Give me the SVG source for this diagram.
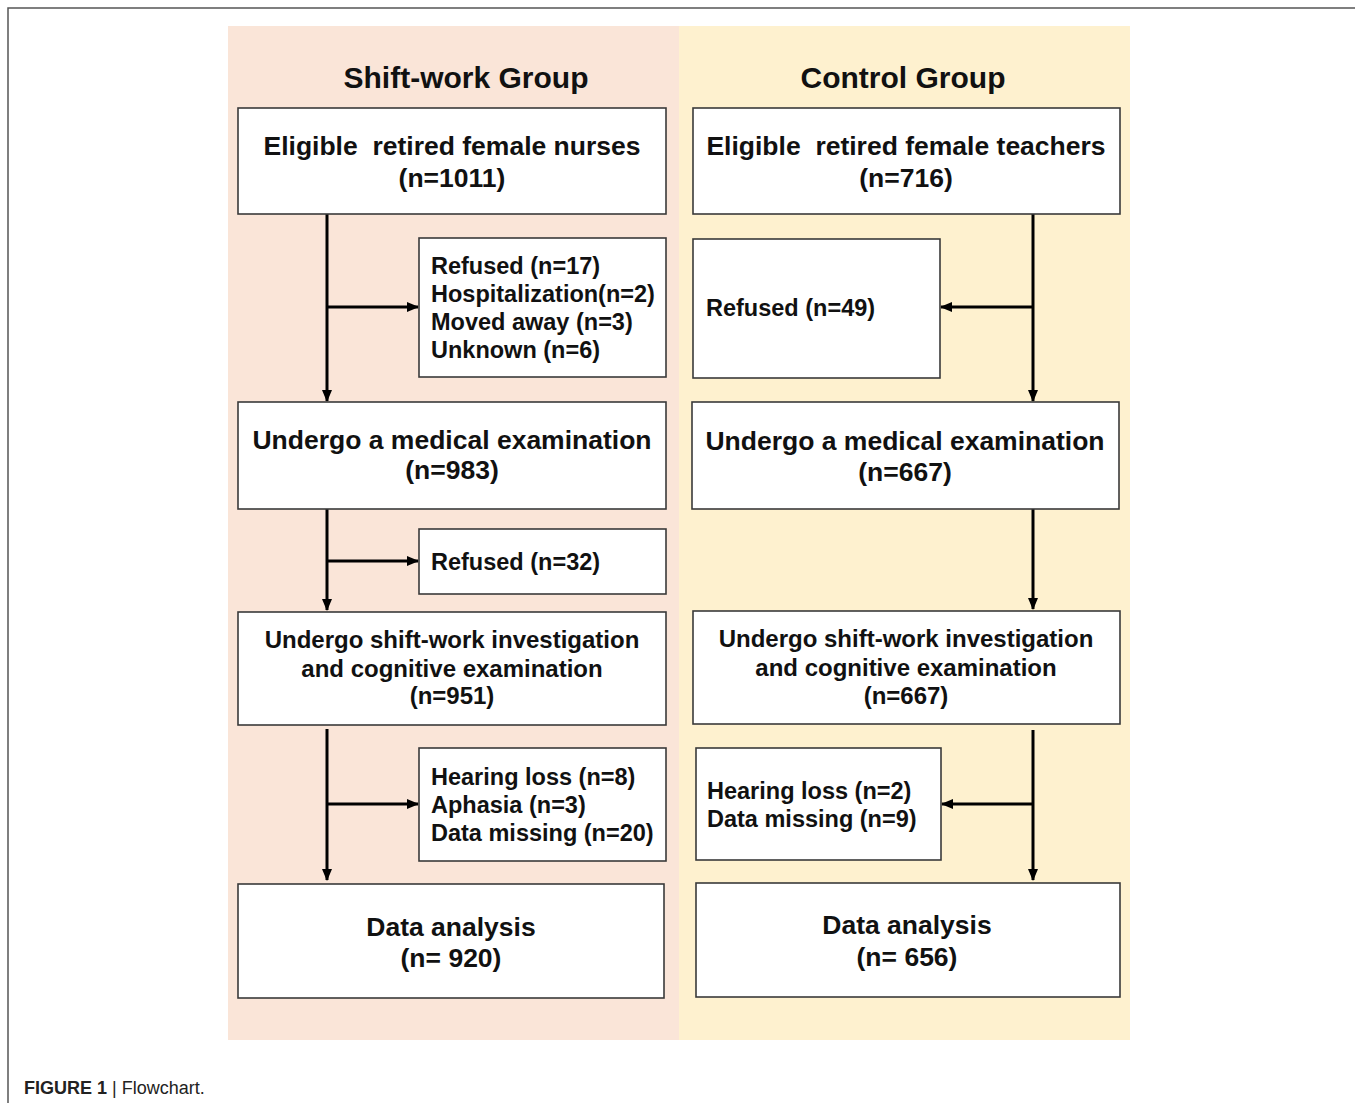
<svg xmlns="http://www.w3.org/2000/svg" width="1355" height="1103" viewBox="0 0 1355 1103">
<defs>
<style>
.box{fill:#fff;stroke:#3a3a3a;stroke-width:1.6}
.t{font-family:"Liberation Sans",Arial,sans-serif;font-weight:bold;fill:#111}
.big{font-size:26.5px;text-anchor:middle}
.mid{font-size:24px;text-anchor:middle}
.sm{font-size:23.5px}
.title{font-size:30px;text-anchor:middle}
.ln{stroke:#000;stroke-width:3;fill:none}
</style>
<marker id="ah" markerUnits="userSpaceOnUse" markerWidth="12" markerHeight="12" viewBox="0 0 12 12" refX="11" refY="6" orient="auto">
<path d="M0,1 L12,6 L0,11 Z" fill="#000"/>
</marker>
</defs>
<rect x="0" y="0" width="1355" height="1103" fill="#fff"/>
<path d="M8,1103 V8 H1355" fill="none" stroke="#555" stroke-width="1.5"/>
<rect x="228" y="26" width="451" height="1014" fill="#fae5d8"/>
<rect x="679" y="26" width="451" height="1014" fill="#fef1cf"/>
<text class="t title" x="466" y="88">Shift-work Group</text>
<text class="t title" x="903" y="88">Control Group</text>

<g id="connectors">
<path class="ln" d="M327,214 V401" marker-end="url(#ah)"/>
<path class="ln" d="M327,307 H418" marker-end="url(#ah)"/>
<path class="ln" d="M327,509 V610" marker-end="url(#ah)"/>
<path class="ln" d="M327,561 H418" marker-end="url(#ah)"/>
<path class="ln" d="M327,729 V880" marker-end="url(#ah)"/>
<path class="ln" d="M327,804 H418" marker-end="url(#ah)"/>
<path class="ln" d="M1033,214 V401" marker-end="url(#ah)"/>
<path class="ln" d="M1033,307 H941" marker-end="url(#ah)"/>
<path class="ln" d="M1033,509 V609" marker-end="url(#ah)"/>
<path class="ln" d="M1033,730 V880" marker-end="url(#ah)"/>
<path class="ln" d="M1033,804 H942" marker-end="url(#ah)"/>
</g>

<g id="n-nurses">
<rect class="box" x="238" y="108" width="428" height="106"/>
<text class="t big" x="452" y="155" xml:space="preserve">Eligible  retired female nurses</text>
<text class="t big" x="452" y="187">(n=1011)</text>
</g>
<g id="n-excl1">
<rect class="box" x="419" y="238" width="247" height="139"/>
<text class="t sm" x="431" y="274">Refused (n=17)</text>
<text class="t sm" x="431" y="302">Hospitalization(n=2)</text>
<text class="t sm" x="431" y="330">Moved away (n=3)</text>
<text class="t sm" x="431" y="358">Unknown (n=6)</text>
</g>
<g id="n-med1">
<rect class="box" x="238" y="402" width="428" height="107"/>
<text class="t big" x="452" y="449">Undergo a medical examination</text>
<text class="t big" x="452" y="479">(n=983)</text>
</g>
<g id="n-excl2">
<rect class="box" x="419" y="529" width="247" height="65"/>
<text class="t sm" x="431" y="570">Refused (n=32)</text>
</g>
<g id="n-shift1">
<rect class="box" x="238" y="612" width="428" height="113"/>
<text class="t mid" x="452" y="648">Undergo shift-work investigation</text>
<text class="t mid" x="452" y="677">and cognitive examination</text>
<text class="t mid" x="452" y="704">(n=951)</text>
</g>
<g id="n-excl3">
<rect class="box" x="419" y="748" width="247" height="113"/>
<text class="t sm" x="431" y="785">Hearing loss (n=8)</text>
<text class="t sm" x="431" y="813">Aphasia (n=3)</text>
<text class="t sm" x="431" y="841">Data missing (n=20)</text>
</g>
<g id="n-data1">
<rect class="box" x="238" y="884" width="426" height="114"/>
<text class="t big" x="451" y="936">Data analysis</text>
<text class="t big" x="451" y="967">(n= 920)</text>
</g>

<g id="n-teachers">
<rect class="box" x="693" y="108" width="427" height="106"/>
<text class="t big" x="906" y="155" xml:space="preserve">Eligible  retired female teachers</text>
<text class="t big" x="906" y="187">(n=716)</text>
</g>
<g id="n-excl4">
<rect class="box" x="693" y="239" width="247" height="139"/>
<text class="t sm" x="706" y="316">Refused (n=49)</text>
</g>
<g id="n-med2">
<rect class="box" x="692" y="402" width="427" height="107"/>
<text class="t big" x="905" y="450">Undergo a medical examination</text>
<text class="t big" x="905" y="481">(n=667)</text>
</g>
<g id="n-shift2">
<rect class="box" x="693" y="611" width="427" height="113"/>
<text class="t mid" x="906" y="647">Undergo shift-work investigation</text>
<text class="t mid" x="906" y="676">and cognitive examination</text>
<text class="t mid" x="906" y="704">(n=667)</text>
</g>
<g id="n-excl5">
<rect class="box" x="696" y="748" width="245" height="112"/>
<text class="t sm" x="707" y="799">Hearing loss (n=2)</text>
<text class="t sm" x="707" y="827">Data missing (n=9)</text>
</g>
<g id="n-data2">
<rect class="box" x="696" y="883" width="424" height="114"/>
<text class="t big" x="907" y="934">Data analysis</text>
<text class="t big" x="907" y="966">(n= 656)</text>
</g>

<text x="24" y="1094" font-family="'Liberation Sans Narrow','Liberation Sans',Arial,sans-serif" font-size="18" fill="#222"><tspan font-weight="bold">FIGURE 1</tspan> | Flowchart.</text>
</svg>
